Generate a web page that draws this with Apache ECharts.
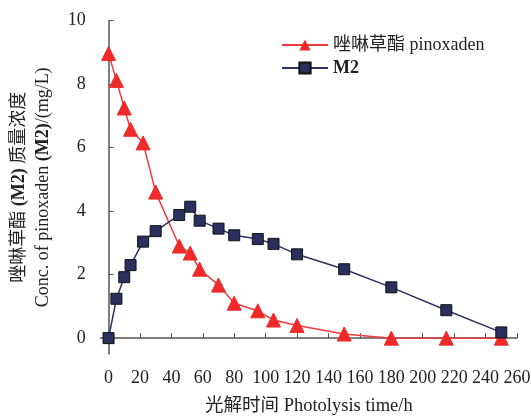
<!DOCTYPE html>
<html>
<head>
<meta charset="utf-8">
<script src="https://cdn.jsdelivr.net/npm/echarts@6/dist/echarts.min.js"></script>
<style>html,body{margin:0;padding:0;background:#fff}#c{width:531px;height:416px}</style>
</head>
<body>
<div id="c"></div>
<script>
const timeH = [0, 5, 10, 14, 22, 30, 45, 52, 58, 70, 80, 95, 105, 120, 150, 180, 215, 250];
const pinoxaden = [8.97, 8.12, 7.25, 6.58, 6.15, 4.6, 2.9, 2.68, 2.17, 1.67, 1.1, 0.86, 0.57, 0.4, 0.13, 0.0, 0.0, 0.0];
const m2 = [0.0, 1.24, 1.92, 2.3, 3.04, 3.37, 3.88, 4.14, 3.7, 3.45, 3.24, 3.12, 2.97, 2.64, 2.17, 1.6, 0.88, 0.18];
const xTicks = [0, 20, 40, 60, 80, 100, 120, 140, 160, 180, 200, 220, 240, 260];
const yTicks = [0, 2, 4, 6, 8, 10];
const nameA = '唑啉草酯 pinoxaden';
const nameB = 'M2';

const font = '"Liberation Serif", "Noto Sans CJK SC", serif';
const axisColor = '#555';
const chart = echarts.init(document.getElementById('c'));
chart.setOption({
  animation: false,
  backgroundColor: '#fff',
  textStyle: { fontFamily: font },
  grid: { left: 100.7, right: 14, top: 20.7, bottom: 62, containLabel: false, outerBoundsMode: 'none' },
  legend: {
    orient: 'vertical', left: 276, top: 31,
    itemWidth: 46, itemHeight: 14, itemGap: 5,
    textStyle: { fontFamily: font, fontSize: 18, color: '#222',
      rich: { b: { fontFamily: font, fontSize: 18, fontWeight: 'bold', color: '#222' } } },
    formatter: n => n === nameB ? '{b|' + n + '}' : n,
    data: [nameA, nameB]
  },
  xAxis: {
    type: 'value', min: -5, max: 260,
    splitLine: { show: false },
    axisLine: { lineStyle: { color: axisColor, width: 1.5 } },
    axisTick: { inside: true, length: 5, customValues: xTicks, lineStyle: { color: axisColor } },
    axisLabel: { customValues: xTicks, margin: 15, fontSize: 18, color: '#222', fontFamily: font },
    name: '光解时间 Photolysis time/h', nameLocation: 'middle', nameGap: 43,
    nameTextStyle: { fontSize: 18.5, color: '#222', fontFamily: font }
  },
  yAxis: {
    type: 'value', min: -0.5, max: 10,
    splitLine: { show: false },
    axisLine: { show: true, lineStyle: { color: axisColor, width: 1.5 } },
    axisTick: { show: true, inside: true, length: 5, customValues: yTicks, lineStyle: { color: axisColor } },
    axisLabel: { customValues: yTicks, margin: 15, fontSize: 18, color: '#222', fontFamily: font },
    name: '{a|唑啉草酯 }{b|(M2)}{a| 质量浓度}\n{a|Conc. of pinoxaden }{b|(M2)}{a|/(mg/L)}',
    nameLocation: 'middle', nameRotate: 90, nameGap: 45,
    nameTextStyle: {
      color: '#222', fontFamily: font, fontSize: 18, lineHeight: 24,
      rich: {
        a: { fontFamily: font, fontSize: 18, color: '#222', lineHeight: 24 },
        b: { fontFamily: font, fontSize: 18, fontWeight: 'bold', color: '#222', lineHeight: 24 }
      }
    }
  },
  series: [
    {
      name: nameA, type: 'line', data: timeH.map((t, i) => [t, pinoxaden[i]]),
      symbol: 'triangle', symbolSize: 14,
      lineStyle: { color: '#F03A3A', width: 1.5 },
      itemStyle: { color: '#EE2A2A', borderColor: '#EE2A2A' }
    },
    {
      name: nameB, type: 'line', data: timeH.map((t, i) => [t, m2[i]]),
      symbol: 'rect', symbolSize: 11,
      lineStyle: { color: '#2E3163', width: 1.5 },
      itemStyle: { color: '#2B2F5E', borderColor: '#111', borderWidth: 1 }
    }
  ]
});
</script>
</body>
</html>
